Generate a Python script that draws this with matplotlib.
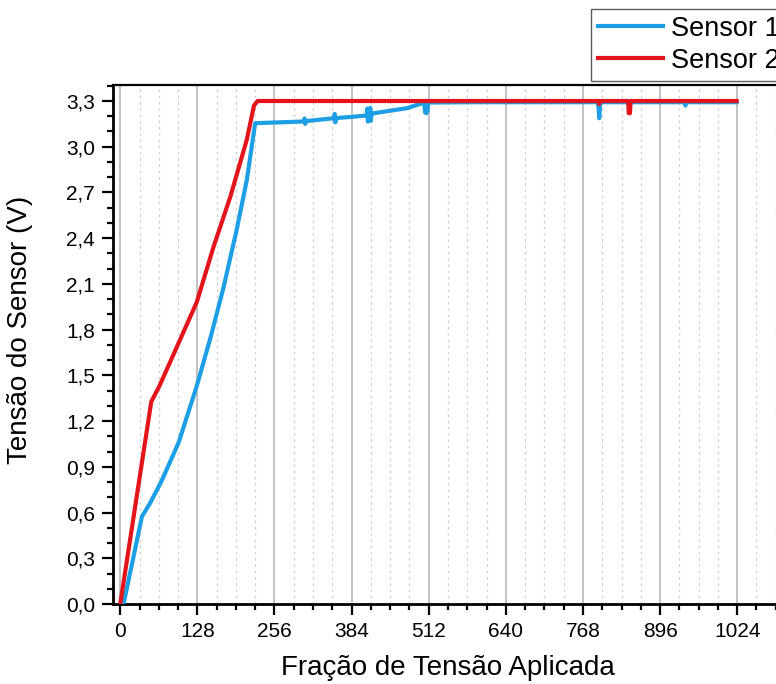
import matplotlib
matplotlib.use("Agg")
import matplotlib.pyplot as plt
from matplotlib.ticker import MultipleLocator, FixedLocator
from matplotlib.lines import Line2D

plt.rcParams['font.family'] = ['Liberation Sans', 'DejaVu Sans']

# ---- data ----
sensor1_x = [5.5, 36, 50, 69, 97, 127, 150, 171, 193, 210, 224, 228,
             300, 305, 306, 307, 308, 355, 356, 357, 358, 359, 390,
             409, 410, 411, 412, 414, 415, 416, 417, 418, 476, 501,
             505, 506, 508, 510, 511, 512, 600, 700, 793, 794, 795, 796,
             797, 900, 937, 938, 939, 1000, 1023]
sensor1_y = [0.0, 0.573, 0.665, 0.81, 1.06, 1.43, 1.75, 2.07, 2.45, 2.78, 3.155, 3.155,
             3.165, 3.166, 3.185, 3.150, 3.168, 3.187, 3.215, 3.160, 3.190, 3.188, 3.198,
             3.205, 3.250, 3.165, 3.215, 3.212, 3.255, 3.170, 3.220, 3.218, 3.253, 3.285,
             3.285, 3.225, 3.220, 3.235, 3.285, 3.290, 3.292, 3.292, 3.292, 3.250, 3.187, 3.250,
             3.292, 3.292, 3.292, 3.270, 3.292, 3.292, 3.292]

sensor2_x = [0, 51.5, 65, 82, 100, 127, 155, 183, 210, 222, 228,
             500, 794, 795, 796, 843, 844, 846, 847, 1023]
sensor2_y = [0.0, 1.327, 1.43, 1.58, 1.74, 1.98, 2.345, 2.675, 3.045, 3.27, 3.30,
             3.30, 3.30, 3.28, 3.30, 3.30, 3.22, 3.22, 3.30, 3.30]

x_ticks = [0, 128, 256, 384, 512, 640, 768, 896, 1024]
x_tick_labels = ['0', '128', '256', '384', '512', '640', '768', '896', '1024']
y_ticks = [0.0, 0.3, 0.6, 0.9, 1.2, 1.5, 1.8, 2.1, 2.4, 2.7, 3.0, 3.3]
y_tick_labels = ['0,0', '0,3', '0,6', '0,9', '1,2', '1,5', '1,8', '2,1', '2,4', '2,7', '3,0', '3,3']
series_labels = ['Sensor 1', 'Sensor 2']

blue = '#1C9FE4'
red = '#E3141C'

W, H = 776, 684
fig = plt.figure(figsize=(W / 100, H / 100), dpi=100)
ax = fig.add_axes([113 / W, 80 / H, 670 / W, 519 / H])

ax.plot(sensor1_x, sensor1_y, color=blue, lw=3.0, solid_joinstyle='round', zorder=3)
ax.plot(sensor2_x, sensor2_y, color=red, lw=3.0, solid_joinstyle='round', zorder=4)

ax.set_xlim(-12, 1100)
ax.set_ylim(0, 3.405)

ax.xaxis.set_major_locator(FixedLocator(x_ticks))
ax.set_xticklabels(x_tick_labels)
ax.xaxis.set_minor_locator(MultipleLocator(32))
ax.yaxis.set_major_locator(FixedLocator(y_ticks))
ax.set_yticklabels(y_tick_labels)
ax.yaxis.set_minor_locator(MultipleLocator(0.1))

ax.grid(True, axis='x', which='major', color='#BDBDBD', lw=1.3, zorder=0)
ax.grid(True, axis='x', which='minor', color='#CFCFCF', lw=0.9, ls=(0, (2, 3)), zorder=0)
ax.set_axisbelow(True)

ax.tick_params(which='major', direction='out', length=8, width=1.6, labelsize=15,
               colors='black', pad=5)
ax.tick_params(which='minor', direction='out', length=4.5, width=1.6)
ax.tick_params(top=False, right=False, which='both')

for s in ['left', 'bottom']:
    ax.spines[s].set_linewidth(2.0)
ax.spines['top'].set_linewidth(1.6)
ax.spines['right'].set_visible(False)

ax.set_xlabel('Fração de Tensão Aplicada', fontsize=20, labelpad=10)
ax.set_ylabel('Tensão do Sensor (V)', fontsize=20)
ax.yaxis.set_label_coords((33 - 113) / 670, (604 - 330) / 519)

handles = [Line2D([], [], color=blue, lw=3.0), Line2D([], [], color=red, lw=3.0)]
leg = fig.legend(handles, series_labels, loc='upper left',
                 bbox_to_anchor=(591 / W, 1 - 9 / H), fontsize=19.5,
                 frameon=True, fancybox=False, edgecolor='#333333',
                 handlelength=2.4, handletextpad=0.3, labelspacing=0.22,
                 borderpad=0.25, borderaxespad=0)
leg.get_frame().set_linewidth(1.0)

fig.savefig('out.png', dpi=100)
